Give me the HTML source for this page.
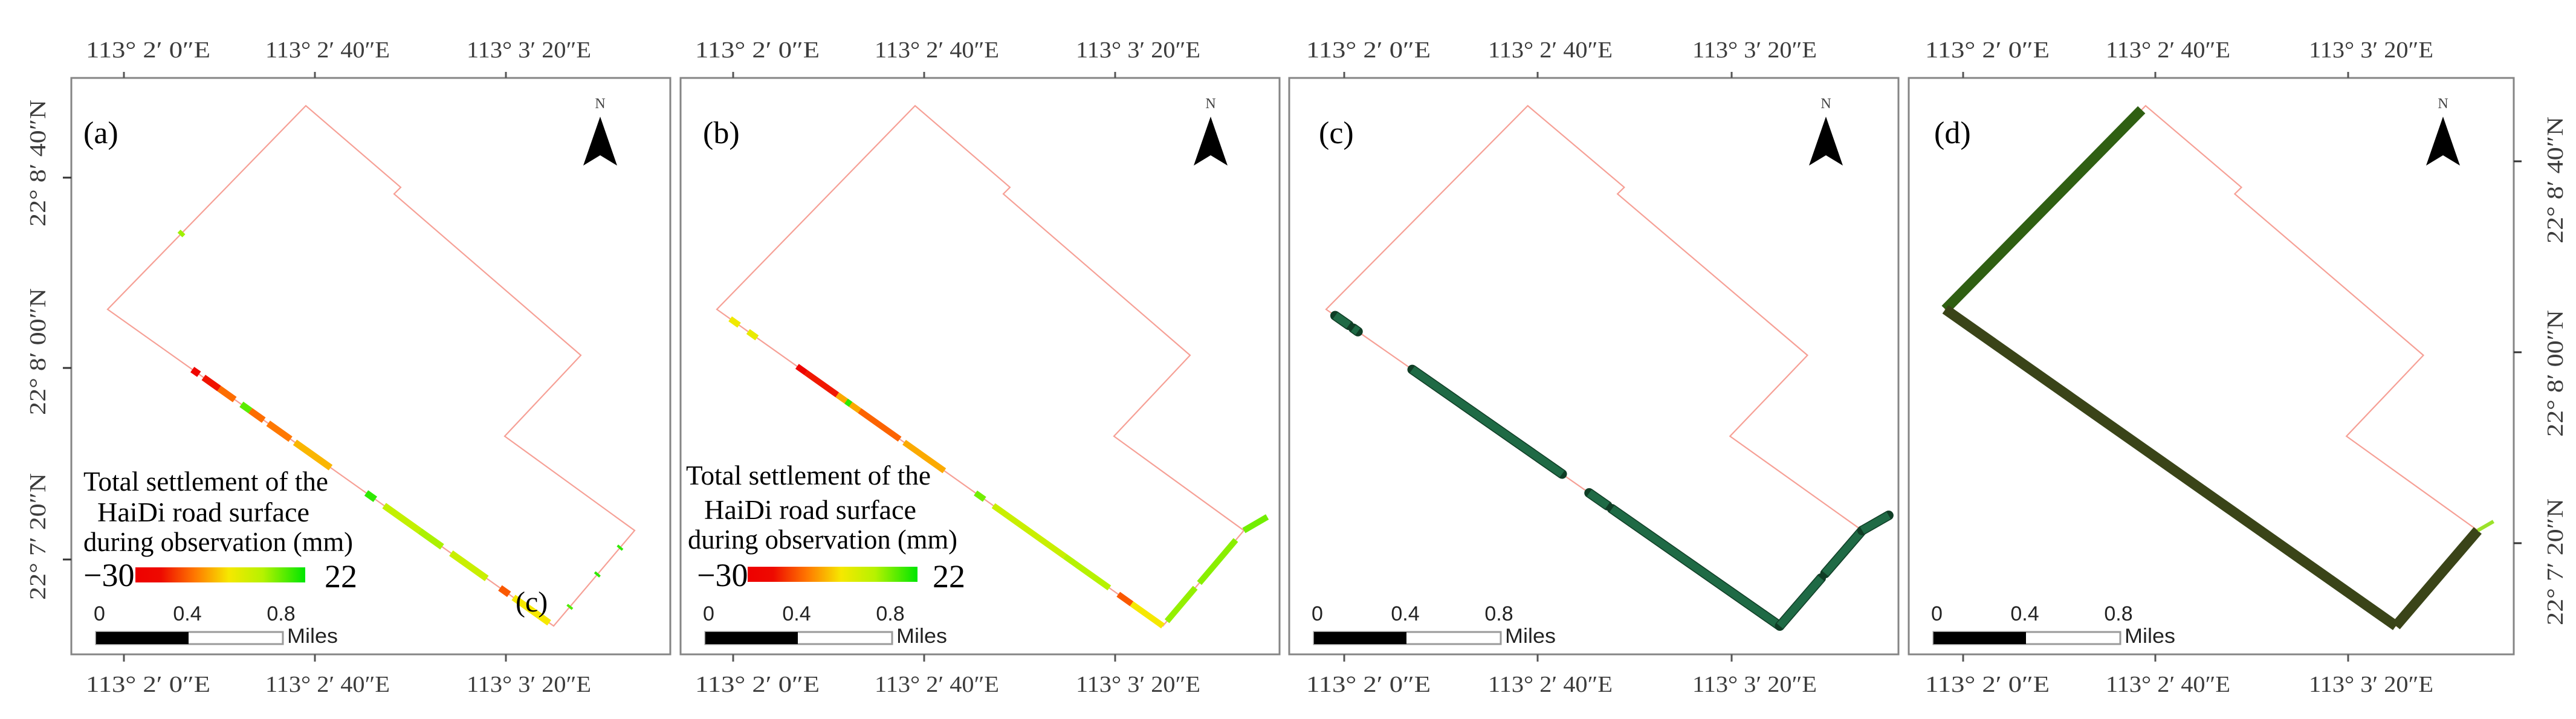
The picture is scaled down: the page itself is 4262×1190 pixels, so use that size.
<!DOCTYPE html>
<html>
<head>
<meta charset="utf-8">
<style>
html,body{margin:0;padding:0;background:#fff;}
svg{display:block;}
</style>
</head>
<body>
<svg id="fig" xmlns="http://www.w3.org/2000/svg" width="4262" height="1190" viewBox="0 0 4262 1190">
  <defs>
    <linearGradient id="cbar" x1="0" y1="0" x2="1" y2="0">
      <stop offset="0" stop-color="#ee0000"/>
      <stop offset="0.15" stop-color="#ee0a00"/>
      <stop offset="0.35" stop-color="#ff7800"/>
      <stop offset="0.55" stop-color="#f6e800"/>
      <stop offset="0.75" stop-color="#b6f200"/>
      <stop offset="1" stop-color="#00e600"/>
    </linearGradient>
  </defs>
  <rect x="0" y="0" width="4262" height="1190" fill="#ffffff"/>
</svg>
<script>
// ---- data ----
const panelIds = ['a','b','c','d'];
const panelLeft = [118, 1126, 2133, 3158];
const panelWidth = [991, 991, 1008, 1001];
const lonTickLabels = ['113\u00B0  2\u2032 0\u2033E','113\u00B0  2\u2032 40\u2033E','113\u00B0  3\u2032 20\u2033E'];
const latTickLabels = ['22\u00B0  8\u2032 40\u2033N','22\u00B0  8\u2032 00\u2033N','22\u00B0  7\u2032 20\u2033N'];
const scaleLabels = ['0','0.4','0.8'];
// settlement segments along road route (u: 0 apex->left, 1 left->bottom, 2 bottom->farRight, 3 farRight->end)
const aStart = [0.62,1.19,1.215,1.25,1.30,1.32,1.36,1.42,1.58,1.62,1.70,1.77,1.88,1.91,2.19,2.53,2.81];
const aEnd   = [0.635,1.205,1.25,1.285,1.32,1.35,1.41,1.50,1.60,1.70,1.75,1.85,1.90,1.99,2.21,2.55,2.83];
const aValue = [8,-28,-24,-14,14,-14,-13,-8,18,4,7,3,-16,-4,15,18,18];
const bStart = [1.03,1.07,1.18,1.20,1.27,1.29,1.32,1.42,1.58,1.62,1.78,1.90,1.93,2.05,2.45,3.0];
const bEnd   = [1.05,1.09,1.20,1.27,1.32,1.30,1.41,1.51,1.60,1.78,1.88,1.93,2.00,2.40,2.90,3.9];
const bValue = [-3,-2,-29,-22,-9,18,-15,-9,12,3,6,-16,-4,9,10,12];
const cStart = [1.02,1.06,1.19,1.58,1.63,2.0,2.55,3.0];
const cEnd   = [1.05,1.07,1.52,1.62,2.0,2.5,3.0,4.0];
const dStart = [0.02,1.0,2.0,3.0];
const dEnd   = [1.0,2.0,3.0,3.6];
const dValue = [1,0,0,20];
const colorDomain = [-30,-22,-13,-4,6,22];
const colorRange = ['#ee0000','#f01800','#ff7800','#f6e800','#b6f200','#00e600'];

// ---- geometry ----
const NS='http://www.w3.org/2000/svg';
const svg=document.getElementById('fig');
const TOP=129, H=954;
const boundary=[[388,46],[545,181],[534,192],[843,459],[717,593],[932,749],[798,907],[60,383]];
const route=[[388,46],[60,383],[798,907],[932,749],[975,724]];
const tickRel=[[87,403,719],[87,403,719],[91,411,732],[90,408,727]];
const northRel=[875,877,888,884];

function mk(tag,attrs,parent){const e=document.createElementNS(NS,tag);for(const k in attrs)e.setAttribute(k,attrs[k]);(parent||svg).appendChild(e);return e;}
function routePt(u){const i=Math.min(Math.floor(u),route.length-2);const f=u-i;const p=route[i],q=route[i+1];return [p[0]+(q[0]-p[0])*f,p[1]+(q[1]-p[1])*f];}
function colorOf(v){
  function h(c){return [parseInt(c.substr(1,2),16),parseInt(c.substr(3,2),16),parseInt(c.substr(5,2),16)];}
  for(let i=0;i<colorDomain.length-1;i++){
    if(v<=colorDomain[i+1]||i===colorDomain.length-2){
      const f=Math.max(0,Math.min(1,(v-colorDomain[i])/(colorDomain[i+1]-colorDomain[i])));
      const a=h(colorRange[i]),b=h(colorRange[i+1]);
      return 'rgb('+a.map((x,j)=>Math.round(x+(b[j]-x)*f)).join(',')+')';
    }
  }
}
function segPath(u0,u1){
  const pts=[routePt(u0)];
  for(let k=Math.ceil(u0);k<u1;k++){if(k>u0)pts.push(route[k]);}
  pts.push(routePt(u1));
  return 'M'+pts.map(p=>p[0].toFixed(1)+','+p[1].toFixed(1)).join(' L');
}

panelIds.forEach((id,pi)=>{
  const x0=panelLeft[pi], w=panelWidth[pi];
  const sx=w/991;
  const g=mk('g',{transform:'translate('+x0+','+TOP+')'});
  
  
  const inner=mk('g',{transform:'scale('+sx+',1)'},g);
  // boundary
  const poly=mk('polygon',{points:boundary.map(p=>p.join(',')).join(' '),fill:'none',stroke:'#f6a096','stroke-width':2.2},inner);
  
  
  // settlement marks
  let S,E,V,width,fixed=null,outline=null;
  if(id==='a'){S=aStart;E=aEnd;V=aValue;width=11;}
  else if(id==='b'){S=bStart;E=bEnd;V=bValue;width=10;}
  else if(id==='c'){S=cStart;E=cEnd;V=null;width=13;fixed='#1f6a45';outline='#0f3d25';}
  else {S=dStart;E=dEnd;V=dValue;width=17;}
  for(let i=0;i<S.length;i++){
    let col;
    if(id==='c')col=fixed;
    else if(id==='d')col=V[i]>10?'#9be22a':(i===0?'#2f5f12':'#3a4418');
    else col=colorOf(V[i]);
    if(outline){
      const o=mk('path',{d:segPath(S[i],E[i]),fill:'none',stroke:outline,'stroke-width':width+3,'stroke-linecap':'round'},inner);
      
      
    }
    const p=mk('path',{d:segPath(S[i],E[i]),fill:'none',stroke:col,'stroke-width':(id==='d'&&V[i]>10)?6:width,'stroke-linecap':'butt'},inner);
    
    
  }
  // frame
  const fr=mk('rect',{x:0,y:0,width:w,height:H,fill:'none',stroke:'#858585','stroke-width':3},g);
  
  
  // lon ticks + labels
  const offs=[40,21,38];
  tickRel[pi].forEach((tx,k)=>{
    const t1=mk('line',{x1:tx,y1:-10,x2:tx,y2:0,stroke:'#555','stroke-width':3},g);
    
    
    const t2=mk('line',{x1:tx,y1:H,x2:tx,y2:H+12,stroke:'#555','stroke-width':3},g);
    
    
    [95-TOP,1145-TOP].forEach((by,j)=>{
      const t=mk('text',{x:tx+offs[k],y:by,'text-anchor':'middle','font-family':'"Liberation Serif",serif','font-size':38,fill:'#3c3c3c',textLength:206,lengthAdjust:'spacingAndGlyphs'},g);
      t.textContent=lonTickLabels[k];
      
      
    });
  });
  // panel letter
  const pl=mk('text',{x:id==='a'?20:(id==='b'?37:(id==='c'?49:42)),y:108,'font-family':'"Liberation Serif",serif','font-size':52,fill:'#000'},g);
  pl.textContent='('+id+')';
  
  
  // north arrow
  const nx=northRel[pi];
  const nt=mk('text',{x:nx,y:50,'text-anchor':'middle','font-family':'"Liberation Serif",serif','font-size':24,fill:'#444'},g);
  nt.textContent='N';
  
  
  const na=mk('polygon',{points:[[nx,64],[nx+28,145],[nx,128],[nx-28,145]].map(p=>p.join(',')).join(' '),fill:'#000'},g);
  
  
  // scale bar
  const sbY=1046-TOP;
  const sb1=mk('rect',{x:41,y:sbY,width:309,height:20,fill:'#fff',stroke:'#9a9a9a','stroke-width':3},g);
  
  
  const sb2=mk('rect',{x:41,y:sbY,width:153,height:20,fill:'#000'},g);
  
  
  [[37,'start'],[192,'middle'],[347,'middle']].forEach((s,k)=>{
    const t=mk('text',{x:s[0],y:1027-TOP,'text-anchor':s[1],'font-family':'"Liberation Sans Narrow","Liberation Sans",sans-serif','font-size':34,fill:'#222'},g);
    t.textContent=scaleLabels[k];
    
    
  });
  const mi=mk('text',{x:357,y:1064-TOP,'font-family':'"Liberation Sans Narrow","Liberation Sans",sans-serif','font-size':34,fill:'#222',textLength:84,lengthAdjust:'spacingAndGlyphs'},g);
  mi.textContent='Miles';
  
  
  // legend for a and b
  if(id==='a'||id==='b'){
    const L=id==='a'?{x1:20,x2:43,x3:20,y:[812,863,912],cb:106,cby:939,m:20,p:419}:{x1:9,x2:39,x3:12,y:[802,859,908],cb:111,cby:938,m:27,p:417};
    const lines=[['Total settlement of the',L.x1,405],['HaiDi  road surface',L.x2,351],['during observation (mm)',L.x3,446]];
    lines.forEach((ln,k)=>{
      const t=mk('text',{x:ln[1],y:L.y[k]-TOP,'font-family':'"Liberation Serif",serif','font-size':45,fill:'#000',textLength:ln[2],lengthAdjust:'spacingAndGlyphs'},g);
      t.textContent=ln[0];
      
      
    });
    const cb=mk('rect',{x:L.cb,y:L.cby-TOP,width:281,height:25,fill:'url(#cbar)'},g);
    
    
    const mn=mk('text',{x:L.m,y:970-TOP,'font-family':'"Liberation Serif",serif','font-size':54,fill:'#000'},g);
    mn.textContent='\u221230';
    
    
    const mx=mk('text',{x:L.p,y:972-TOP,'font-family':'"Liberation Serif",serif','font-size':54,fill:'#000'},g);
    mx.textContent='22';
    
    
  }
  if(id==='a'){
    const cl=mk('text',{x:735,y:1012-TOP,'font-family':'"Liberation Serif",serif','font-size':48,fill:'#000'},g);
    cl.textContent='(c)';
    
    
  }
});

// latitude ticks & labels: left of panel a, right of panel d
const latLeftY=[294,609,926], latLeftLabelY=[270,582,888];
latLeftY.forEach((y,k)=>{
  const l=mk('line',{x1:104,y1:y,x2:118,y2:y,stroke:'#333','stroke-width':3});
  
  
  const t=mk('text',{x:0,y:0,transform:'translate(75,'+latLeftLabelY[k]+') rotate(-90)','text-anchor':'middle','font-family':'"Liberation Serif",serif','font-size':38,fill:'#3c3c3c',textLength:210,lengthAdjust:'spacingAndGlyphs'});
  t.textContent=latTickLabels[k];
  
  
});
const latRightY=[267,583,899], latRightLabelY=[298,618,930];
latRightY.forEach((y,k)=>{
  const l=mk('line',{x1:4159,y1:y,x2:4172,y2:y,stroke:'#333','stroke-width':3});
  
  
  const t=mk('text',{x:0,y:0,transform:'translate(4240,'+latRightLabelY[k]+') rotate(-90)','text-anchor':'middle','font-family':'"Liberation Serif",serif','font-size':38,fill:'#3c3c3c',textLength:210,lengthAdjust:'spacingAndGlyphs'});
  t.textContent=latTickLabels[k];
  
  
});
</script>
</body>
</html>
